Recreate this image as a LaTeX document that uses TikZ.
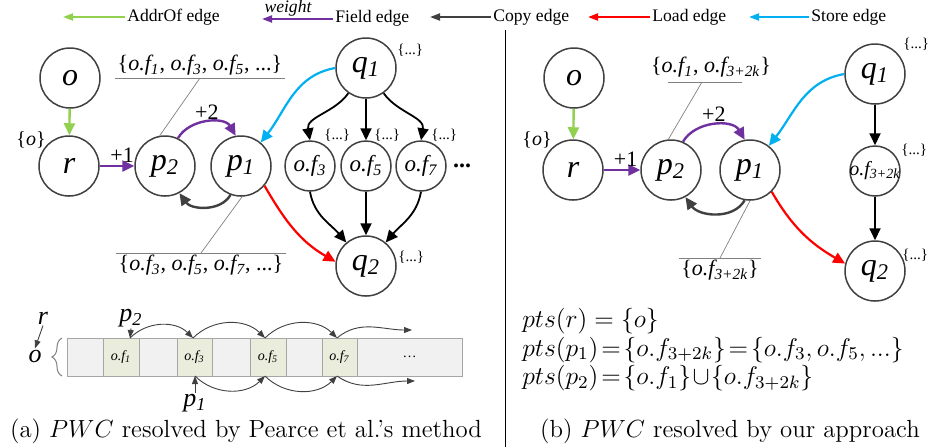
\RequirePackage{fix-cm}
\documentclass[tikz,border=0pt]{standalone}
\usepackage{fontspec}
\newfontfamily\tnr{Liberation Serif}
\usetikzlibrary{arrows.meta}
\usetikzlibrary{positioning}
\usetikzlibrary{decorations.pathreplacing}

\definecolor{addrgreen}{HTML}{92D050}
\definecolor{fieldpurple}{HTML}{7030A0}
\definecolor{copygray}{HTML}{404040}
\definecolor{storeblue}{HTML}{00B0F0}
\definecolor{cellgreen}{HTML}{EAEDDB}
\definecolor{cellgray}{HTML}{F1F1F1}

\newcommand{\fld}[1]{{\itshape o.f\textsubscript{#1}}}

\begin{document}
\begin{tikzpicture}[x=0.5pt, y=-0.5pt,
    >={Triangle[length=6pt,width=5.5pt]},
    varnode/.style={shape=circle, draw=copygray, line width=0.75pt,
      minimum size=30pt, inner sep=0pt,
      font=\tnr\itshape\fontsize{16}{16}\selectfont},
    fldnode/.style={varnode, minimum size=25pt,
      font=\tnr\itshape\fontsize{11.5}{12}\selectfont},
    setlabel/.style={font=\tnr\fontsize{7.5}{8}\selectfont,
      inner sep=0pt, anchor=west},
    anno/.style={font=\tnr\fontsize{11}{12}\selectfont, inner sep=1pt},
    wlabel/.style={font=\tnr\fontsize{11}{12}\selectfont, inner sep=1pt},
    leader/.style={draw=gray, line width=0.35pt},
    legtext/.style={font=\tnr\fontsize{8.8}{10}\selectfont,
      inner sep=1pt, anchor=west},
    legarrow/.style={<-, line width=1pt,
      >={Triangle[length=5pt,width=3.5pt]}},
    addrof/.style={->, draw=addrgreen, line width=1.2pt},
    field/.style={->, draw=fieldpurple, line width=1.2pt},
    copyedge/.style={->, draw=black, line width=0.9pt},
    backcopy/.style={->, draw=copygray, line width=1.2pt},
    loadedge/.style={->, draw=red, line width=1.1pt},
    storeedge/.style={->, draw=storeblue, line width=1.1pt},
    cellbox/.style={shape=rectangle, draw=gray!70, line width=0.4pt,
      minimum height=19pt, inner sep=0pt,
      font=\tnr\itshape\fontsize{7}{8}\selectfont},
    memlab/.style={font=\tnr\itshape\fontsize{13}{13}\selectfont,
      inner sep=0.5pt},
    memarrow/.style={->, draw=copygray, line width=0.45pt,
      >={Triangle[length=4pt,width=3pt]}},
    subcap/.style={font=\fontsize{12.4}{15}\selectfont, inner sep=0pt},
    ptsline/.style={font=\fontsize{12.8}{14.2}\selectfont,
      inner sep=0pt, anchor=north west, align=left}]

  \path[use as bounding box] (0,0) rectangle (937,447);

  % legend
  \node[name=lgaddr, legtext, at={(125,17)}] {AddrOf edge};
  \node[name=lgfield, legtext, at={(333,18)}] {Field edge};
  \node[name=lgweight, at={(288,8)},
    font=\tnr\itshape\fontsize{8.8}{10}\selectfont] {weight};
  \node[name=lgcopy, legtext, at={(491,17)}] {Copy edge};
  \node[name=lgload, legtext, at={(650,17)}] {Load edge};
  \node[name=lgstore, legtext, at={(809,17)}] {Store edge};
  \coordinate (lgaddrtip) at (63,17);
  \coordinate (lgfieldtip) at (262,19);
  \coordinate (lgcopytip) at (430,17);
  \coordinate (lgloadtip) at (588,17);
  \coordinate (lgstoretip) at (749,17);
  \draw[legarrow, addrgreen] (lgaddrtip) -- (lgaddr);
  \draw[legarrow, fieldpurple] (lgfieldtip) -- (lgfield.west |- lgfieldtip);
  \draw[legarrow, copygray] (lgcopytip) -- (lgcopy);
  \draw[legarrow, red] (lgloadtip) -- (lgload);
  \draw[legarrow, storeblue] (lgstoretip) -- (lgstore);

  \draw[black, line width=0.5pt] (505,30) -- (505,447);

  % (a) graph
  \node[name=o, varnode, at={(70,78)}] {o};
  \node[name=r, varnode, at={(69,166)}] {r};
  \node[name=p2, varnode, at={(165,166)}] {p\textsubscript{2}};
  \node[name=p1, varnode, at={(241,166)}] {p\textsubscript{1}};
  \node[name=q1, varnode, at={(366,68)}] {q\textsubscript{1}};
  \node[name=q2, varnode, at={(366,266)}] {q\textsubscript{2}};
  \node[name=f3, fldnode, at={(310,166)}] {\fld{3}};
  \node[name=f5, fldnode, at={(366,166)}] {\fld{5}};
  \node[name=f7, fldnode, at={(421,166)}] {\fld{7}};
  \node[name=fdots, at={(462,166)},
    font=\tnr\bfseries\fontsize{12}{12}\selectfont] {...};

  \node[name=ro, at={(31,140)}, font=\tnr\fontsize{10}{10}\selectfont] {\{\textit{o}\}};
  \node[name=q1set, setlabel, at={(397,50)}] {\{...\}};
  \node[name=f3set, setlabel, at={(324,135)}] {\{...\}};
  \node[name=f5set, setlabel, at={(374,135)}] {\{...\}};
  \node[name=f7set, setlabel, at={(431,135)}] {\{...\}};
  \node[name=q2set, setlabel, at={(398,257)}] {\{...\}};

  \node[name=ptsp2, anno, anchor=south, at={(200,78)}]
    {\{\fld{1}, \fld{3}, \fld{5}, ...\}};
  \node[name=ptsp1, anno, anchor=north, at={(201,253)}]
    {\{\fld{3}, \fld{5}, \fld{7}, ...\}};
  \draw[leader] (ptsp2.south west) -- (ptsp2.south east);
  \draw[leader] (ptsp1.north west) -- (ptsp1.north east);
  \draw[leader] (ptsp2.south) -- (p2.100);
  \draw[leader] (ptsp1.north) -- (p1.-88);

  \path (o) edge[addrof] (r);
  \path (r) edge[field] node[wlabel, above, pos=0.65] {+1} (p2);
  \path (p2.65) edge[field, out=60, in=120]
    node[wlabel, above] {+2} (p1.100);
  \path (p1.-110) edge[backcopy, out=-120, in=-55] (p2.-62);
  \path (q1.west) edge[storeedge, out=190, in=52] (p1.50);
  \path (p1.-40) edge[loadedge, out=-60, in=150] (q2.172);
  \path (q1.-125) edge[copyedge, out=235, in=100] (f3.north);
  \path (q1) edge[copyedge] (f5);
  \path (q1.-55) edge[copyedge, out=-55, in=80] (f7.north);
  \path (f3.south) edge[copyedge, out=-80, in=130] (q2.130);
  \path (f5) edge[copyedge] (q2);
  \path (f7.south) edge[copyedge, out=-100, in=50] (q2.50);

  % (a) memory layout
  \foreach \xa/\xb/\cf/\ct [count=\i] in {67/103/cellgray/{},
      103/139/cellgreen/\fld{1}, 139/177/cellgray/{},
      177/212/cellgreen/\fld{3}, 212/250/cellgray/{},
      250/286/cellgreen/\fld{5}, 286/322/cellgray/{},
      322/357/cellgreen/\fld{7}, 357/462/cellgray/{\upshape\dots}}
    \node[name=cell\i, cellbox, fill=\cf,
      minimum width=(\xb-\xa)*0.5pt,
      at={({(\xa+\xb)/2},357)}] {\ct};

  \node[name=mr, memlab, at={(43,318)}] {r};
  \node[name=mo, memlab, at={(35,356)}] {o};
  \node[name=mp2, memlab, at={(131,318)}] {p\textsubscript{2}};
  \node[name=mp1, memlab, at={(195,403)}] {p\textsubscript{1}};
  \draw[decorate, decoration={brace, amplitude=5pt}, draw=gray, line width=0.5pt]
    (62,376) -- (62,338);
  \draw[memarrow] (mr.south) -- (mo.north);

  \coordinate (t1) at (130,338);
  \coordinate (t2) at (193,338);
  \coordinate (t3) at (265,338);
  \coordinate (t4) at (337,338);
  \coordinate (t5) at (412,330);
  \coordinate (b2) at (195,376);
  \coordinate (b3) at (265,376);
  \coordinate (b4) at (337,376);
  \coordinate (b5) at (415,381);
  \draw[memarrow] (mp2.south) -- (t1);
  \draw[memarrow] (mp1.north) -- (b2);
  \draw[memarrow] (t1) to[out=45, in=135] (t2);
  \draw[memarrow] (t2) to[out=45, in=135] (t3);
  \draw[memarrow] (t3) to[out=45, in=135] (t4);
  \draw[memarrow] (t4) to[out=40, in=180] (t5);
  \draw[memarrow] (b2) to[out=-45, in=-135] (b3);
  \draw[memarrow] (b3) to[out=-45, in=-135] (b4);
  \draw[memarrow] (b4) to[out=-35, in=180] (b5);

  \node[name=capa, subcap, at={(246,431)}]
    {(a) $PWC$ resolved by Pearce et al.'s method};

  % (b) graph
  \node[name=ob, varnode, at={(574,78)}] {o};
  \node[name=rb, varnode, at={(573,170)}] {r};
  \node[name=p2b, varnode, at={(671,170)}] {p\textsubscript{2}};
  \node[name=p1b, varnode, at={(750,170)}] {p\textsubscript{1}};
  \node[name=q1b, varnode, at={(875,74)}] {q\textsubscript{1}};
  \node[name=fb, fldnode, at={(875,171)},
    font=\tnr\itshape\fontsize{10}{10}\selectfont] {\makebox[0pt]{\fld{3+2k}}};
  \node[name=q2b, varnode, at={(875,271)}] {q\textsubscript{2}};

  \node[name=rbo, at={(537,140)}, font=\tnr\fontsize{10}{10}\selectfont] {\{\textit{o}\}};
  \node[name=q1bset, setlabel, at={(903,44)}] {\{...\}};
  \node[name=fbset, setlabel, at={(901,150)}] {\{...\}};
  \node[name=q2bset, setlabel, at={(902,255)}] {\{...\}};

  \node[name=ptsp2b, anno, anchor=south, at={(711,80)}]
    {\{\fld{1}, \fld{3+2k}\}};
  \node[name=ptsp1b, anno, anchor=north, at={(720,258)}]
    {\{\fld{3+2k}\}};
  \coordinate (ulb1) at (668,82);
  \coordinate (ulb2) at (742,82);
  \draw[leader] (ulb1) -- (ulb2);
  \draw[leader] (ptsp1b.north west) -- (ptsp1b.north east);
  \draw[leader] (702,82) -- (p2b.95);
  \draw[leader] (ptsp1b.north) -- (p1b.-90);

  \path (ob) edge[addrof] (rb);
  \path (rb) edge[field] node[wlabel, above, pos=0.6] {+1} (p2b);
  \path (p2b.67) edge[field, out=60, in=120]
    node[wlabel, above] {+2} (p1b.100);
  \path (p1b.-100) edge[backcopy, out=-120, in=-55] (p2b.-62);
  \path (q1b.west) edge[storeedge, out=190, in=52] (p1b.52);
  \path (p1b.-45) edge[loadedge, out=-60, in=150] (q2b.166);
  \path (q1b) edge[copyedge] (fb);
  \path (fb) edge[copyedge] (q2b);

  % (b) points-to sets
  \node[name=ptsall, ptsline, at={(522,308)}]
    {$pts(r) = \{o\}$\\
     $pts(p_1)\!=\!\{o.f_{3+2k}\}\!=\!\{o.f_3, o.f_5, ...\}$\\
     $pts(p_2)\!=\!\{o.f_1\}\!\cup\!\{o.f_{3+2k}\}$};

  \node[name=capb, subcap, at={(730,431)}]
    {(b) $PWC$ resolved by our approach};
\end{tikzpicture}
\end{document}
